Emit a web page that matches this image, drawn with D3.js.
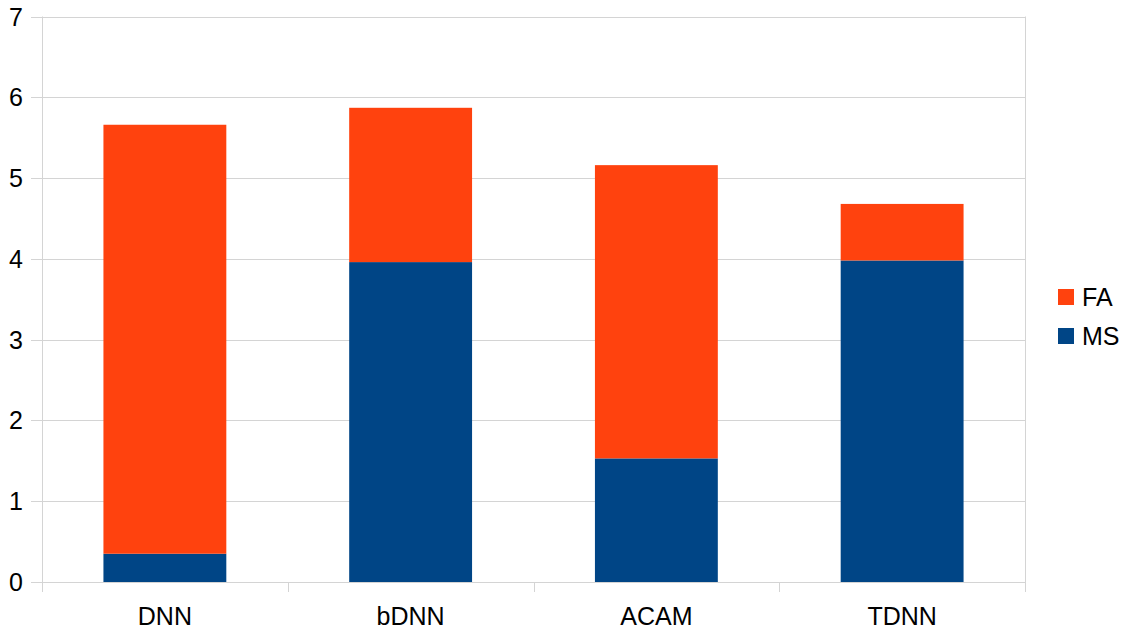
<!DOCTYPE html>
<html lang="en">
<head>
    <meta charset="utf8">
    <title>MS / FA stacked bars</title>
    <script src="https://d3js.org/d3.v7.min.js"></script>
    <style>
        body { margin: 0; background: #fff; }
        svg { display: block; }
        text { font-family: "Liberation Sans", Arial, sans-serif; fill: #000; }
    </style>
</head>
<body>
    <svg id="chart" width="1132" height="633"></svg>
    <script>
        // data
        const categories = ["DNN", "bDNN", "ACAM", "TDNN"];
        const msValues = [0.35, 3.96, 1.53, 3.98];
        const faValues = [5.31, 1.91, 3.63, 0.70];
        const yTicks = [0, 1, 2, 3, 4, 5, 6, 7];
        const seriesNames = ["MS", "FA"];
        const colors = { MS: "#004586", FA: "#ff420e" };

        const svg = d3.select("#chart");
        const plotLeft = 42, plotRight = 1025, plotTop = 16.5, plotBottom = 582;
        const gridColor = "#d4d4d4";

        const x = d3.scaleBand()
            .domain(categories)
            .range([plotLeft, plotRight])
            .paddingInner(0.5)
            .paddingOuter(0.25);

        const y = d3.scaleLinear()
            .domain([0, 7])
            .range([plotBottom, plotTop]);

        // horizontal gridlines (with short outward ticks)
        svg.append("g")
            .selectAll("line")
            .data(yTicks)
            .join("line")
            .attr("x1", plotLeft - 11)
            .attr("x2", plotRight)
            .attr("y1", d => Math.round(y(d)) + 0.5)
            .attr("y2", d => Math.round(y(d)) + 0.5)
            .attr("stroke", gridColor)
            .attr("stroke-width", 1);

        // left and right frame lines
        svg.append("line")
            .attr("x1", plotLeft + 0.5).attr("x2", plotLeft + 0.5)
            .attr("y1", plotTop).attr("y2", plotBottom + 10)
            .attr("stroke", gridColor);
        svg.append("line")
            .attr("x1", plotRight + 0.5).attr("x2", plotRight + 0.5)
            .attr("y1", plotTop).attr("y2", plotBottom + 10)
            .attr("stroke", gridColor);

        // category boundary ticks
        const bounds = d3.range(1, categories.length).map(i => plotLeft + (plotRight - plotLeft) * i / categories.length);
        svg.append("g")
            .selectAll("line")
            .data(bounds)
            .join("line")
            .attr("x1", d => Math.round(d) + 0.5)
            .attr("x2", d => Math.round(d) + 0.5)
            .attr("y1", plotBottom)
            .attr("y2", plotBottom + 10)
            .attr("stroke", gridColor);

        // y labels
        svg.append("g")
            .selectAll("text")
            .data(yTicks)
            .join("text")
            .attr("x", 23)
            .attr("y", d => y(d) + 9)
            .attr("text-anchor", "end")
            .attr("font-size", 25)
            .text(d => d);

        // stacked bars
        const rows = categories.map((c, i) => ({ cat: c, MS: msValues[i], FA: faValues[i] }));
        const stack = d3.stack().keys(seriesNames)(rows);

        svg.append("g")
            .selectAll("g")
            .data(stack)
            .join("g")
            .attr("fill", d => colors[d.key])
            .selectAll("rect")
            .data(d => d)
            .join("rect")
            .attr("x", d => x(d.data.cat))
            .attr("width", x.bandwidth())
            .attr("y", d => y(d[1]))
            .attr("height", d => y(d[0]) - y(d[1]));

        // x labels
        svg.append("g")
            .selectAll("text")
            .data(categories)
            .join("text")
            .attr("x", d => x(d) + x.bandwidth() / 2)
            .attr("y", 625)
            .attr("text-anchor", "middle")
            .attr("font-size", 25)
            .text(d => d);

        // legend
        const legendItems = ["FA", "MS"];
        const legend = svg.append("g")
            .selectAll("g")
            .data(legendItems)
            .join("g")
            .attr("transform", (d, i) => `translate(1058, ${289 + i * 39})`);
        legend.append("rect")
            .attr("width", 16)
            .attr("height", 16)
            .attr("fill", d => colors[d]);
        legend.append("text")
            .attr("x", 24)
            .attr("y", 17)
            .attr("font-size", 25)
            .text(d => d);
    </script>
</body>
</html>
